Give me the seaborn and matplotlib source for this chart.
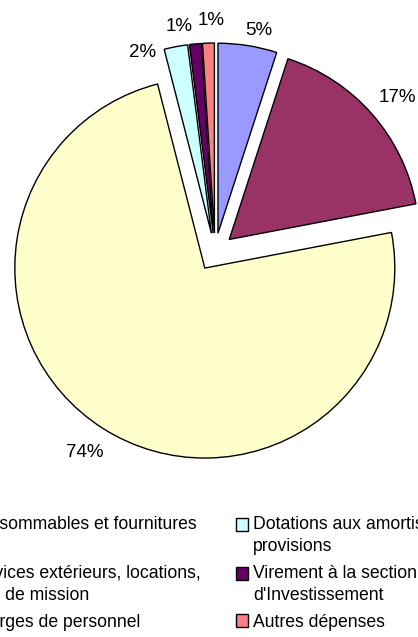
import numpy as np
import matplotlib
matplotlib.use("Agg")
import matplotlib.pyplot as plt
import seaborn as sns
from matplotlib.legend_handler import HandlerPatch

# données du camembert (dépenses de fonctionnement, en %)
categories = [
    "Consommables et fournitures\n ",
    "Services extérieurs, locations,\nfrais de mission",
    "Charges de personnel",
    "Dotations aux amortissements et\nprovisions",
    "Virement à la section\nd'Investissement",
    "Autres dépenses",
]
valeurs = [5, 17, 74, 2, 1, 1]
couleurs = ["#9999FF", "#993366", "#FFFFCC", "#CCFFFF", "#660066", "#FF8080"]

sns.set_theme(style="white")
plt.rcParams["font.family"] = ["Liberation Sans", "DejaVu Sans"]
plt.rcParams["text.color"] = "black"


class HandlerHaut(HandlerPatch):
    # carré de légende aligné sur la première ligne du libellé
    def __init__(self, dy, **kw):
        super().__init__(**kw)
        self.dy = dy

    def create_artists(self, legend, orig_handle, xdescent, ydescent,
                       width, height, fontsize, trans):
        arts = super().create_artists(legend, orig_handle, xdescent, ydescent,
                                      width, height, fontsize, trans)
        for a in arts:
            a.set_y(a.get_y() + self.dy)
            a.set_linewidth(1)
        return arts


W, H = 418, 637
fig = plt.figure(figsize=(W / 100, H / 100), dpi=100)
ax = fig.add_axes([0, 0, 1, 1])

wedges, _ = ax.pie(
    valeurs,
    colors=sns.color_palette(couleurs),
    startangle=90,
    counterclock=False,
    explode=[0.1] * len(valeurs),
    wedgeprops=dict(edgecolor="black", linewidth=1),
)

# centre du camembert et rayon en pixels
cx, cy, R = 215, 637 - 252, 190
ax.set_xlim(-cx / R, (W - cx) / R)
ax.set_ylim(-cy / R, (H - cy) / R)
ax.set_aspect("auto")
ax.axis("off")

# étiquettes de pourcentage (décalées comme dans Excel)
dist = [1.19, 1.26, 1.26, 1.12, 1.2, 1.22]
decal = [-2.2, -1.1, -0.6, 9.2, 3.6, -0.8]
for w, v, d, a in zip(wedges, valeurs, dist, decal):
    phi = np.deg2rad((w.theta1 + w.theta2) / 2 + a)
    ax.text(d * np.cos(phi), d * np.sin(phi), f"{v}%",
            ha="center", va="center", fontsize=13.5, color="black")

fs = 12.7
handlers = {w: HandlerHaut(8.2 if "\n" in c else 0) for w, c in zip(wedges, categories)}
leg = fig.legend(
    wedges, categories, handler_map=handlers,
    loc="upper left", bbox_to_anchor=(-0.122, 0.19),
    ncol=2, frameon=False, fontsize=fs,
    handlelength=0.7, handleheight=0.7, handletextpad=0.3,
    columnspacing=2.0, labelspacing=0.55,
    borderpad=0, borderaxespad=0,
)
for t in leg.get_texts():
    t.set_linespacing(1.4)
    t.set_color("black")

fig.savefig("out.png", dpi=100)
